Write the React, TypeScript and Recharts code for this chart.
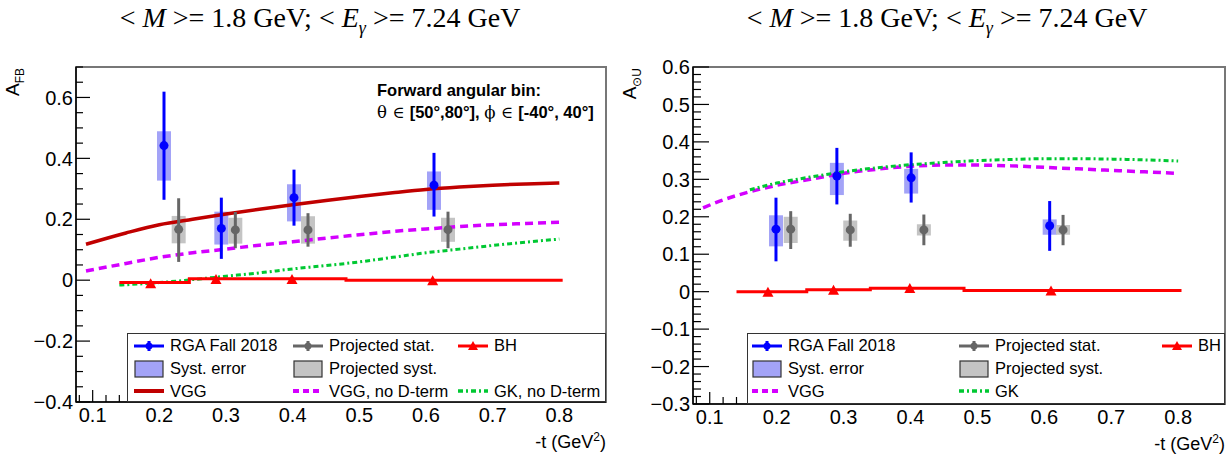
import { ComposedChart, Line, Scatter, ErrorBar, XAxis, YAxis, ReferenceArea, Legend, Label } from 'recharts'

const FONT = '"Liberation Sans", Arial, Helvetica, sans-serif'
const SERIF = '"Liberation Serif", "Times New Roman", serif'

// ---- left panel: A_FB ----
const fbRgaT = [0.207, 0.293, 0.402, 0.612]
const fbRgaV = [0.442, 0.170, 0.271, 0.312]
const fbRgaStatLo = [0.264, 0.070, 0.179, 0.209]
const fbRgaStatHi = [0.619, 0.271, 0.363, 0.418]
const fbRgaSystLo = [0.327, 0.117, 0.193, 0.231]
const fbRgaSystHi = [0.489, 0.225, 0.315, 0.357]

const fbProjT = [0.229, 0.314, 0.423, 0.633]
const fbProjV = [0.167, 0.165, 0.165, 0.166]
const fbProjStatLo = [0.060, 0.105, 0.110, 0.105]
const fbProjStatHi = [0.269, 0.224, 0.220, 0.225]
const fbProjSystLo = [0.121, 0.120, 0.120, 0.126]
const fbProjSystHi = [0.211, 0.205, 0.210, 0.205]

const fbCurveT = [0.09, 0.15, 0.2, 0.25, 0.3, 0.35, 0.4, 0.45, 0.5, 0.55, 0.6, 0.65, 0.7, 0.75, 0.8]
const fbVgg = [0.118, 0.155, 0.182, 0.200, 0.217, 0.233, 0.248, 0.262, 0.275, 0.287, 0.298, 0.306, 0.312, 0.316, 0.319]
const fbVggNoD = [0.030, 0.055, 0.075, 0.090, 0.102, 0.115, 0.126, 0.138, 0.149, 0.160, 0.168, 0.176, 0.182, 0.186, 0.190]
const fbGkT = [0.14, 0.2, 0.25, 0.3, 0.35, 0.4, 0.45, 0.5, 0.55, 0.6, 0.65, 0.7, 0.75, 0.8]
const fbGkNoD = [-0.016, -0.008, 0.002, 0.013, 0.024, 0.037, 0.048, 0.060, 0.075, 0.090, 0.102, 0.114, 0.125, 0.135]

const bhEdges = [0.14, 0.245, 0.34, 0.48, 0.805]
const fbBh = [-0.008, 0.005, 0.005, 0.0, 0.0]
const bhMarkT = [0.187, 0.285, 0.399, 0.61]
const fbBhMark = [-0.01, 0.004, 0.004, 0.0]

// ---- right panel: A_LU ----
const luRgaT = [0.199, 0.290, 0.401, 0.608]
const luRgaV = [0.167, 0.309, 0.304, 0.176]
const luRgaStatLo = [0.081, 0.233, 0.238, 0.109]
const luRgaStatHi = [0.251, 0.384, 0.372, 0.242]
const luRgaSystLo = [0.121, 0.258, 0.262, 0.152]
const luRgaSystHi = [0.204, 0.344, 0.328, 0.193]

const luProjT = [0.221, 0.310, 0.420, 0.628]
const luProjV = [0.167, 0.165, 0.165, 0.165]
const luProjStatLo = [0.114, 0.120, 0.124, 0.124]
const luProjStatHi = [0.215, 0.208, 0.206, 0.205]
const luProjSystLo = [0.130, 0.136, 0.150, 0.152]
const luProjSystHi = [0.200, 0.190, 0.180, 0.178]

const luVggT = [0.09, 0.12, 0.15, 0.2, 0.25, 0.3, 0.35, 0.4, 0.45, 0.5, 0.55, 0.6, 0.65, 0.7, 0.75, 0.8]
const luVgg = [0.224, 0.245, 0.262, 0.284, 0.300, 0.316, 0.327, 0.335, 0.338, 0.338, 0.336, 0.332, 0.328, 0.324, 0.320, 0.316]
const luGkT = [0.16, 0.2, 0.25, 0.3, 0.35, 0.4, 0.45, 0.5, 0.55, 0.6, 0.65, 0.7, 0.75, 0.8]
const luGk = [0.272, 0.290, 0.306, 0.320, 0.331, 0.339, 0.345, 0.350, 0.353, 0.355, 0.355, 0.354, 0.352, 0.349]
const luBh = [0.0, 0.005, 0.009, 0.003, 0.003]
const luBhMark = [0.0, 0.005, 0.01, 0.003]

const xLabels = [0.1, 0.2, 0.3, 0.4, 0.5, 0.6, 0.7, 0.8]
const X_DOMAIN: [number, number] = [0.075, 0.87]

function range(lo: number, hi: number, step: number) {
    const out: number[] = []
    for (let i = 0; lo + i * step <= hi + 1e-9; i++) out.push(+(lo + i * step).toFixed(4))
    return out
}

function isMajor(v: number, step: number) {
    const r = v / step
    return Math.abs(r - Math.round(r)) < 1e-6
}

function fmt(v: number) {
    if (Math.abs(v) < 1e-9) return '0'
    const s = v.toFixed(1)
    return s.startsWith('-') ? '\u2212' + s.slice(1) : s
}

function pts(t: number[], v: number[], lo?: number[], hi?: number[]) {
    return t.map((x, i) => ({ t: x, v: v[i], err: lo && hi ? [v[i] - lo[i], hi[i] - v[i]] : undefined }))
}

const YTick = ({ x, y, payload, step, majorLen, minorLen }: any) => {
    const major = isMajor(payload.value, step)
    return (
        <g>
            <line x1={x} y1={y} x2={x + (major ? majorLen : minorLen)} y2={y} stroke="#000" strokeWidth={1.2} />
            {major && (
                <text x={x - 3} y={y} dy="0.36em" textAnchor="end" fontFamily={FONT} fontSize={20} fill="#000">
                    {fmt(payload.value)}
                </text>
            )}
        </g>
    )
}

const XTick = ({ x, y, payload }: any) => {
    const major = xLabels.some((l) => Math.abs(l - payload.value) < 1e-6)
    return (
        <g>
            <line x1={x} y1={y} x2={x} y2={y - (major ? 12 : 7)} stroke="#000" strokeWidth={1.2} />
            {major && (
                <text x={x} y={y + 20} textAnchor="middle" fontFamily={FONT} fontSize={20} fill="#000">
                    {payload.value.toFixed(1)}
                </text>
            )}
        </g>
    )
}

const Dot = (color: string, r: number) => (p: any) => <circle cx={p.cx} cy={p.cy} r={r} fill={color} />
const Tri = (p: any) => (
    <polygon points={`${p.cx - 5.5},${p.cy + 5} ${p.cx + 5.5},${p.cy + 5} ${p.cx},${p.cy - 5}`} fill="#ff0000" />
)
const Empty = () => <g />

type LegendItem = { col: number; row: number; kind: string; color: string; label: string }

function Sym({ kind, color }: { kind: string; color: string }) {
    return (
        <svg width={30} height={18} style={{ display: 'block' }}>
            {kind === 'point' && (
                <>
                    <line x1={0} y1={9} x2={30} y2={9} stroke={color} strokeWidth={3} />
                    <line x1={15} y1={4} x2={15} y2={14} stroke={color} strokeWidth={3} />
                    <circle cx={15} cy={9} r={3.5} fill={color} />
                </>
            )}
            {kind === 'tri' && (
                <>
                    <line x1={0} y1={9} x2={30} y2={9} stroke={color} strokeWidth={3} />
                    <polygon points="10,13 20,13 15,4" fill={color} />
                </>
            )}
            {kind === 'box' && <rect x={1} y={1} width={28} height={16} fill={color} stroke="#333" strokeWidth={1.2} />}
            {kind === 'line' && <line x1={0} y1={9} x2={30} y2={9} stroke={color} strokeWidth={4} />}
            {kind === 'dash' && <line x1={0} y1={9} x2={30} y2={9} stroke={color} strokeWidth={4} strokeDasharray="6 4" />}
            {kind === 'dashdot' && <line x1={0} y1={9} x2={30} y2={9} stroke={color} strokeWidth={3.5} strokeDasharray="5 3 2 3" />}
        </svg>
    )
}

function LegendBox({ items, cols }: { items: LegendItem[]; cols: number[] }) {
    const rows = [11.5, 34.5, 57]
    return (
        <div style={{ position: 'relative', width: '100%', height: '100%', boxSizing: 'border-box', border: '1.5px solid #333', background: '#fff' }}>
            {items.map((it) => (
                <div key={it.label} style={{ position: 'absolute', left: cols[it.col], top: rows[it.row] - 10, height: 20, display: 'flex', alignItems: 'center' }}>
                    <Sym kind={it.kind} color={it.color} />
                    <span style={{ marginLeft: 6, fontFamily: FONT, fontSize: 16.5, color: '#000', whiteSpace: 'nowrap' }}>{it.label}</span>
                </div>
            ))}
        </div>
    )
}

const BLUE = '#0000ff'
const GRAY = '#666666'
const BLUE_SYST = '#a3a3f7'
const GRAY_SYST = '#c4c4c4'
const MAGENTA = '#d400ff'
const GREEN = '#00c832'

type PanelProps = {
    width: number
    margin: { top: number; right: number; bottom: number; left: number }
    yDomain: [number, number]
    yMajor: number
    yMinor: number
    yTickLen: [number, number]
    rgaT: number[]; rgaV: number[]; rgaStatLo: number[]; rgaStatHi: number[]; rgaSystLo: number[]; rgaSystHi: number[]
    projT: number[]; projV: number[]; projStatLo: number[]; projStatHi: number[]; projSystLo: number[]; projSystHi: number[]
    curves: { t: number[]; v: number[]; color: string; dash?: string; w: number }[]
    bh: number[]; bhMark: number[]
    yTitle: [string, string]
    yTitleX: number
    legendItems: LegendItem[]
    legendCols: number[]
    legendLeft: number
}

function Panel(p: PanelProps) {
    const yTicks = range(p.yDomain[0], p.yDomain[1], p.yMinor)
    const xTicks = range(0.08, 0.86, 0.02)
    const bhData = pts(bhEdges, p.bh)
    return (
        <ComposedChart width={p.width} height={454} margin={p.margin}>
            <ReferenceArea x1={X_DOMAIN[0]} x2={X_DOMAIN[1]} y1={p.yDomain[0]} y2={p.yDomain[1]} fill="none" stroke="#777" strokeWidth={2} ifOverflow="visible" />
            <XAxis
                type="number"
                dataKey="t"
                domain={X_DOMAIN}
                allowDataOverflow
                ticks={xTicks}
                interval={0}
                tickSize={0}
                tickMargin={0}
                height={40}
                axisLine={{ stroke: '#000', strokeWidth: 1.5 }}
                tick={(tp: any) => <XTick {...tp} />}
            >
                <Label
                    content={(lp: any) => {
                        const vb = lp.viewBox
                        return (
                            <text x={vb.x + vb.width} y={vb.y + 46} textAnchor="end" fontFamily={FONT} fontSize={18} fill="#000">
                                -t (GeV<tspan dy={-7} fontSize={12}>2</tspan><tspan dy={7}>)</tspan>
                            </text>
                        )
                    }}
                />
            </XAxis>
            <YAxis
                type="number"
                domain={p.yDomain}
                allowDataOverflow
                ticks={yTicks}
                interval={0}
                tickSize={0}
                tickMargin={0}
                width={60}
                axisLine={{ stroke: '#000', strokeWidth: 1.5 }}
                tick={(tp: any) => <YTick {...tp} step={p.yMajor} majorLen={p.yTickLen[0]} minorLen={p.yTickLen[1]} />}
            >
                <Label
                    content={() => (
                        <text transform={`rotate(-90, ${p.yTitleX}, 68)`} x={p.yTitleX} y={68} textAnchor="end" fontFamily={FONT} fontSize={19} fill="#000">
                            {p.yTitle[0]}
                            <tspan dy={5} fontSize={12}>{p.yTitle[1]}</tspan>
                        </text>
                    )}
                />
            </YAxis>

            <Scatter data={pts(p.rgaT, p.rgaV, p.rgaSystLo, p.rgaSystHi)} dataKey="v" shape={Empty} isAnimationActive={false}>
                <ErrorBar dataKey="err" direction="y" width={0} strokeWidth={14} stroke={BLUE_SYST} isAnimationActive={false} />
            </Scatter>
            <Scatter data={pts(p.projT, p.projV, p.projSystLo, p.projSystHi)} dataKey="v" shape={Empty} isAnimationActive={false}>
                <ErrorBar dataKey="err" direction="y" width={0} strokeWidth={14} stroke={GRAY_SYST} isAnimationActive={false} />
            </Scatter>

            {p.curves.map((c, i) => (
                <Line
                    key={i}
                    data={pts(c.t, c.v)}
                    dataKey="v"
                    type="monotone"
                    stroke={c.color}
                    strokeWidth={c.w}
                    strokeDasharray={c.dash}
                    dot={false}
                    activeDot={false}
                    isAnimationActive={false}
                />
            ))}
            <Line data={bhData} dataKey="v" type="stepAfter" stroke="#ff0000" strokeWidth={3} dot={false} activeDot={false} isAnimationActive={false} />
            <Scatter data={pts(bhMarkT, p.bhMark)} dataKey="v" shape={Tri} isAnimationActive={false} />

            <Scatter data={pts(p.projT, p.projV, p.projStatLo, p.projStatHi)} dataKey="v" shape={Dot(GRAY, 4.5)} isAnimationActive={false}>
                <ErrorBar dataKey="err" direction="y" width={0} strokeWidth={3} stroke={GRAY} isAnimationActive={false} />
            </Scatter>
            <Scatter data={pts(p.rgaT, p.rgaV, p.rgaStatLo, p.rgaStatHi)} dataKey="v" shape={Dot(BLUE, 4.5)} isAnimationActive={false}>
                <ErrorBar dataKey="err" direction="y" width={0} strokeWidth={3} stroke={BLUE} isAnimationActive={false} />
            </Scatter>

            <Legend
                layout="horizontal"
                verticalAlign="middle"
                align="center"
                wrapperStyle={{ left: p.legendLeft, top: 333, width: p.width - p.margin.right - p.legendLeft, height: 454 - p.margin.bottom - 40 - 333 }}
                content={() => <LegendBox items={p.legendItems} cols={p.legendCols} />}
            />
        </ComposedChart>
    )
}

function Title({ center }: { center: number }) {
    return (
        <div style={{ position: 'absolute', left: center - 300, width: 600, top: 2, textAlign: 'center', fontFamily: SERIF, fontSize: 28, color: '#000', whiteSpace: 'pre' }}>
            {'< '}<i>M</i>{' >= 1.8 GeV; < '}<i>E</i><sub style={{ fontSize: 18 }}><i>γ</i></sub>{' >= 7.24 GeV'}
        </div>
    )
}

const boldText = { fontFamily: FONT, fontSize: 16.5, fontWeight: 'bold' as const, color: '#000', whiteSpace: 'pre' as const, position: 'absolute' as const, left: 377 }
const symText = { fontFamily: '"DejaVu Serif", serif', fontWeight: 'normal' as const }

export default function App() {
    const leftLegend: LegendItem[] = [
        { col: 0, row: 0, kind: 'point', color: BLUE, label: 'RGA Fall 2018' },
        { col: 1, row: 0, kind: 'point', color: GRAY, label: 'Projected stat.' },
        { col: 2, row: 0, kind: 'tri', color: '#ff0000', label: 'BH' },
        { col: 0, row: 1, kind: 'box', color: BLUE_SYST, label: 'Syst. error' },
        { col: 1, row: 1, kind: 'box', color: GRAY_SYST, label: 'Projected syst.' },
        { col: 0, row: 2, kind: 'line', color: '#c00000', label: 'VGG' },
        { col: 1, row: 2, kind: 'dash', color: MAGENTA, label: 'VGG, no D-term' },
        { col: 2, row: 2, kind: 'dashdot', color: GREEN, label: 'GK, no D-term' },
    ]
    const rightLegend: LegendItem[] = [
        { col: 0, row: 0, kind: 'point', color: BLUE, label: 'RGA Fall 2018' },
        { col: 1, row: 0, kind: 'point', color: GRAY, label: 'Projected stat.' },
        { col: 2, row: 0, kind: 'tri', color: '#ff0000', label: 'BH' },
        { col: 0, row: 1, kind: 'box', color: BLUE_SYST, label: 'Syst. error' },
        { col: 1, row: 1, kind: 'box', color: GRAY_SYST, label: 'Projected syst.' },
        { col: 0, row: 2, kind: 'dash', color: MAGENTA, label: 'VGG' },
        { col: 1, row: 2, kind: 'dashdot', color: GREEN, label: 'GK' },
    ]
    return (
        <div style={{ position: 'absolute', left: 0, top: 0, width: 1229, height: 454, background: '#fff', overflow: 'hidden' }}>
            <div style={{ position: 'absolute', left: 0, top: 0 }}>
                <Panel
                    width={615}
                    margin={{ top: 67, right: 9, bottom: 12, left: 16 }}
                    yDomain={[-0.4, 0.7]}
                    yMajor={0.2}
                    yMinor={0.05}
                    yTickLen={[14, 7]}
                    rgaT={fbRgaT} rgaV={fbRgaV} rgaStatLo={fbRgaStatLo} rgaStatHi={fbRgaStatHi} rgaSystLo={fbRgaSystLo} rgaSystHi={fbRgaSystHi}
                    projT={fbProjT} projV={fbProjV} projStatLo={fbProjStatLo} projStatHi={fbProjStatHi} projSystLo={fbProjSystLo} projSystHi={fbProjSystHi}
                    curves={[
                        { t: fbCurveT, v: fbVgg, color: '#c00000', w: 3.5 },
                        { t: fbCurveT, v: fbVggNoD, color: MAGENTA, w: 3.5, dash: '8 5' },
                        { t: fbGkT, v: fbGkNoD, color: GREEN, w: 3, dash: '5 3 2 3' },
                    ]}
                    bh={fbBh}
                    bhMark={fbBhMark}
                    yTitle={['A', 'FB']}
                    yTitleX={19}
                    legendItems={leftLegend}
                    legendCols={[6, 165, 330]}
                    legendLeft={127}
                />
            </div>
            <div style={{ position: 'absolute', left: 615, top: 0 }}>
                <Panel
                    width={614}
                    margin={{ top: 67, right: 4, bottom: 10, left: 18 }}
                    yDomain={[-0.3, 0.6]}
                    yMajor={0.1}
                    yMinor={0.02}
                    yTickLen={[16, 8]}
                    rgaT={luRgaT} rgaV={luRgaV} rgaStatLo={luRgaStatLo} rgaStatHi={luRgaStatHi} rgaSystLo={luRgaSystLo} rgaSystHi={luRgaSystHi}
                    projT={luProjT} projV={luProjV} projStatLo={luProjStatLo} projStatHi={luProjStatHi} projSystLo={luProjSystLo} projSystHi={luProjSystHi}
                    curves={[
                        { t: luVggT, v: luVgg, color: MAGENTA, w: 3.5, dash: '8 5' },
                        { t: luGkT, v: luGk, color: GREEN, w: 3, dash: '5 3 2 3' },
                    ]}
                    bh={luBh}
                    bhMark={luBhMark}
                    yTitle={['A', '\u2299U']}
                    yTitleX={21}
                    legendItems={rightLegend}
                    legendCols={[4, 211, 414]}
                    legendLeft={132}
                />
            </div>
            <Title center={320} />
            <Title center={947} />
            <div style={{ ...boldText, top: 81 }}>Forward angular bin:</div>
            <div style={{ ...boldText, top: 103 }}>
                <span style={symText}>θ ∈ </span>[50°,80°], <span style={symText}>ϕ ∈ </span>[-40°, 40°]
            </div>
        </div>
    )
}
